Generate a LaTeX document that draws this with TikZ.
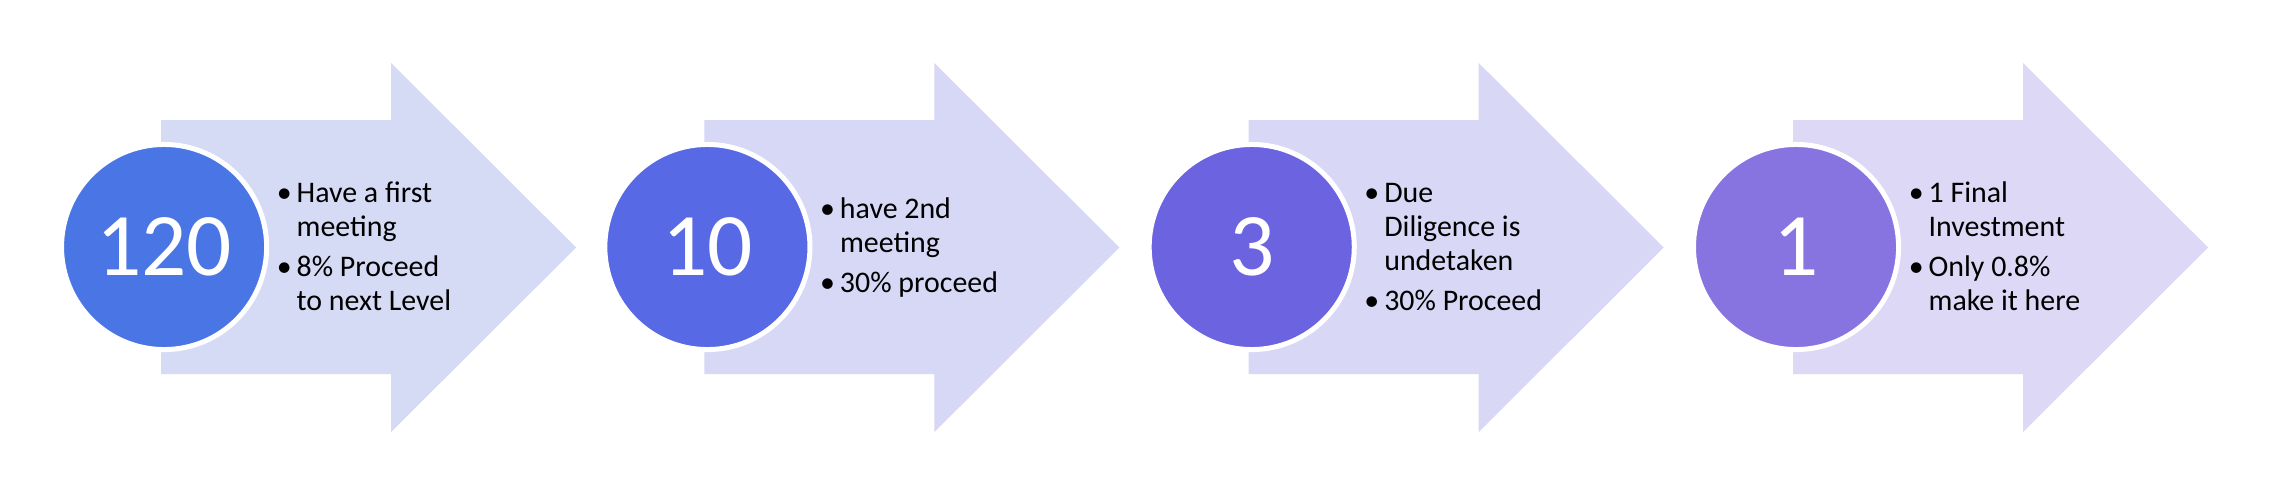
\documentclass[tikz,border=0pt]{standalone}
\usepackage{fontspec}
\setmainfont{Carlito}
\usetikzlibrary{shapes.geometric}

\definecolor{circA}{RGB}{74,118,229}
\definecolor{circB}{RGB}{87,105,228}
\definecolor{circC}{RGB}{107,99,224}
\definecolor{circD}{RGB}{136,116,224}
\definecolor{arrA}{RGB}{214,219,245}
\definecolor{arrB}{RGB}{214,216,245}
\definecolor{arrC}{RGB}{216,215,245}
\definecolor{arrD}{RGB}{221,216,245}

\tikzset{
  stagearrow/.style={fill=#1},
  stagecircle/.style={circle,fill=#1,draw=white,line width=0.05cm,
    minimum size=2.05cm,inner sep=0pt},
  stagenum/.style={text=white,inner sep=0pt,font=\fontsize{25.4}{30}\selectfont},
  stagetext/.style={anchor=base west,inner sep=0pt,font=\fontsize{8.5}{9.67}\selectfont}
}
\newcommand{\stageshape}{(0,120) -- (230,120) -- (230,63) -- (415,247.5) -- (230,432) -- (230,374) -- (0,374) -- cycle}

\begin{document}
\begin{tikzpicture}[x=0.01cm,y=-0.01cm]
\useasboundingbox[fill=white] (0,0) rectangle (2290,484);

% stage 1: first meeting
\begin{scope}[xshift=1.61cm]
\fill[stagearrow=arrA] \stageshape;
\node[stagecircle=circA] (c1) at (3,247) {};
\node[stagenum] (n1) at (c1) {120};
\node[stagetext] (t1) at (115,202) {\begin{tabular}[t]{@{}l@{\hspace{0.05cm}}l@{}}
\textbullet & Have a first\\ & meeting\\[0.06cm]
\textbullet & 8\% Proceed\\ & to next Level\end{tabular}};
\end{scope}

% stage 2: second meeting
\begin{scope}[xshift=7.04cm]
\fill[stagearrow=arrB] \stageshape;
\node[stagecircle=circB] (c2) at (3,247) {};
\node[stagenum] (n2) at (c2) {10};
\node[stagetext] (t2) at (115,218) {\begin{tabular}[t]{@{}l@{\hspace{0.05cm}}l@{}}
\textbullet & have 2nd\\ & meeting\\[0.06cm]
\textbullet & 30\% proceed\end{tabular}};
\end{scope}

% stage 3: due diligence
\begin{scope}[xshift=12.48cm]
\fill[stagearrow=arrC] \stageshape;
\node[stagecircle=circC] (c3) at (3,247) {};
\node[stagenum] (n3) at (c3) {3};
\node[stagetext] (t3) at (115,202) {\begin{tabular}[t]{@{}l@{\hspace{0.05cm}}l@{}}
\textbullet & Due\\ & Diligence is\\ & undetaken\\[0.06cm]
\textbullet & 30\% Proceed\end{tabular}};
\end{scope}

% stage 4: investment
\begin{scope}[xshift=17.92cm]
\fill[stagearrow=arrD] \stageshape;
\node[stagecircle=circD] (c4) at (3,247) {};
\node[stagenum] (n4) at (c4) {1};
\node[stagetext] (t4) at (115,202) {\begin{tabular}[t]{@{}l@{\hspace{0.05cm}}l@{}}
\textbullet & 1 Final\\ & Investment\\[0.06cm]
\textbullet & Only 0.8\%\\ & make it here\end{tabular}};
\end{scope}
\end{tikzpicture}
\end{document}
